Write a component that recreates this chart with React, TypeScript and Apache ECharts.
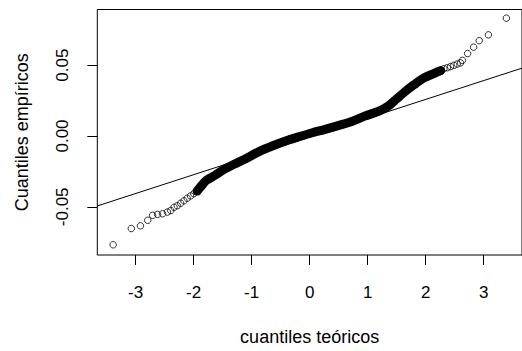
import React, { useEffect, useRef } from "react";
import * as echarts from "echarts";

// Tick positions on both axes
const xTicks = [-3, -2, -1, 0, 1, 2, 3];
const yTicks = [-0.05, 0, 0.05];

// Axis extents
const X_MIN = -3.66;
const X_MAX = 3.66;
const Y_MIN = -0.084;
const Y_MAX = 0.0893;

// Lower tail of the normal Q-Q plot (theoretical, empirical)
const lowerTailX = [-3.387, -3.074, -2.916, -2.791, -2.706, -2.621, -2.536, -2.451, -2.394, -2.337, -2.281, -2.223, -2.167, -2.111, -2.053, -1.997, -1.94];
const lowerTailY = [-0.0768, -0.0653, -0.0634, -0.0595, -0.056, -0.0553, -0.0549, -0.0537, -0.0526, -0.0503, -0.0492, -0.0475, -0.0458, -0.0439, -0.0423, -0.0407, -0.0389];

// Dense centre of the sample, where the points merge into a solid band
const bandX = [-1.94, -1.843, -1.775, -1.622, -1.452, -1.282, -1.111, -0.856, -0.635, -0.414, -0.175, 0.046, 0.267, 0.506, 0.727, 0.948, 1.186, 1.357, 1.493, 1.629, 1.799, 1.97, 2.14, 2.259];
const bandY = [-0.0389, -0.034, -0.0312, -0.0275, -0.023, -0.0196, -0.0162, -0.0107, -0.0069, -0.0035, -0.0004, 0.0023, 0.0047, 0.0075, 0.0102, 0.014, 0.0174, 0.0212, 0.026, 0.0308, 0.0362, 0.041, 0.0441, 0.0462];

// Upper tail
const upperTailX = [2.259, 2.315, 2.373, 2.429, 2.485, 2.543, 2.599, 2.633, 2.723, 2.826, 2.923, 3.081, 3.391];
const upperTailY = [0.0462, 0.0475, 0.0482, 0.049, 0.0499, 0.0508, 0.0516, 0.0534, 0.0582, 0.0627, 0.0673, 0.0714, 0.0832];

// Reference line through the quartiles (qqline)
const qqIntercept = -0.00074;
const qqSlope = 0.01329;

const FONT = "'Liberation Sans', Arial, sans-serif";

const zip = (xs: number[], ys: number[]) => xs.map((x, i) => [x, ys[i]]);

export default function App() {
  const ref = useRef<HTMLDivElement>(null);

  useEffect(() => {
    if (!ref.current) return;
    const chart = echarts.init(ref.current, undefined, { renderer: "svg" });

    const pointStyle = {
      color: "rgba(0,0,0,0)",
      borderColor: "#000",
      borderWidth: 1,
    };

    chart.setOption({
      animation: false,
      backgroundColor: "#fff",
      grid: {
        left: 97.3,
        top: 9.5,
        width: 430,
        height: 253,
        show: true,
        borderColor: "#000",
        borderWidth: 1,
        backgroundColor: "transparent",
      },
      xAxis: {
        type: "value",
        min: X_MIN,
        max: X_MAX,
        axisLine: { show: false, onZero: false },
        splitLine: { show: false },
        axisTick: {
          show: true,
          length: 10,
          customValues: xTicks,
          lineStyle: { color: "#000", width: 1 },
        },
        axisLabel: {
          customValues: xTicks,
          margin: 29,
          fontSize: 17,
          fontFamily: FONT,
          color: "#000",
          formatter: (v: number) => String(v),
        },
        name: "cuantiles teóricos",
        nameLocation: "middle",
        nameGap: 73,
        nameTextStyle: { fontSize: 18, fontFamily: FONT, color: "#000" },
      },
      yAxis: {
        type: "value",
        min: Y_MIN,
        max: Y_MAX,
        axisLine: { show: false, onZero: false },
        splitLine: { show: false },
        axisTick: {
          show: true,
          length: 10,
          customValues: yTicks,
          lineStyle: { color: "#000", width: 1 },
        },
        axisLabel: {
          customValues: yTicks,
          rotate: 90,
          margin: 26,
          fontSize: 17,
          fontFamily: FONT,
          color: "#000",
          formatter: (v: number) => v.toFixed(2),
        },
        name: "Cuantiles empíricos",
        nameLocation: "middle",
        nameRotate: 90,
        nameGap: 66,
        nameTextStyle: { fontSize: 18, fontFamily: FONT, color: "#000" },
      },
      series: [
        {
          type: "line",
          data: zip(bandX, bandY),
          showSymbol: false,
          smooth: 0.3,
          lineStyle: { color: "#000", width: 9, cap: "round", join: "round" },
          silent: true,
          z: 2,
        },
        {
          type: "scatter",
          data: zip(lowerTailX, lowerTailY),
          symbol: "circle",
          symbolSize: 6.5,
          itemStyle: pointStyle,
          z: 3,
        },
        {
          type: "scatter",
          data: zip(upperTailX, upperTailY),
          symbol: "circle",
          symbolSize: 6.5,
          itemStyle: pointStyle,
          z: 3,
        },
        {
          type: "line",
          data: [
            [X_MIN, qqIntercept + qqSlope * X_MIN],
            [X_MAX, qqIntercept + qqSlope * X_MAX],
          ],
          showSymbol: false,
          lineStyle: { color: "#000", width: 1 },
          silent: true,
          z: 4,
        },
      ],
    });

    return () => chart.dispose();
  }, []);

  return (
    <div
      ref={ref}
      style={{ position: "fixed", left: 0, top: 0, width: 522, height: 351 }}
    />
  );
}
